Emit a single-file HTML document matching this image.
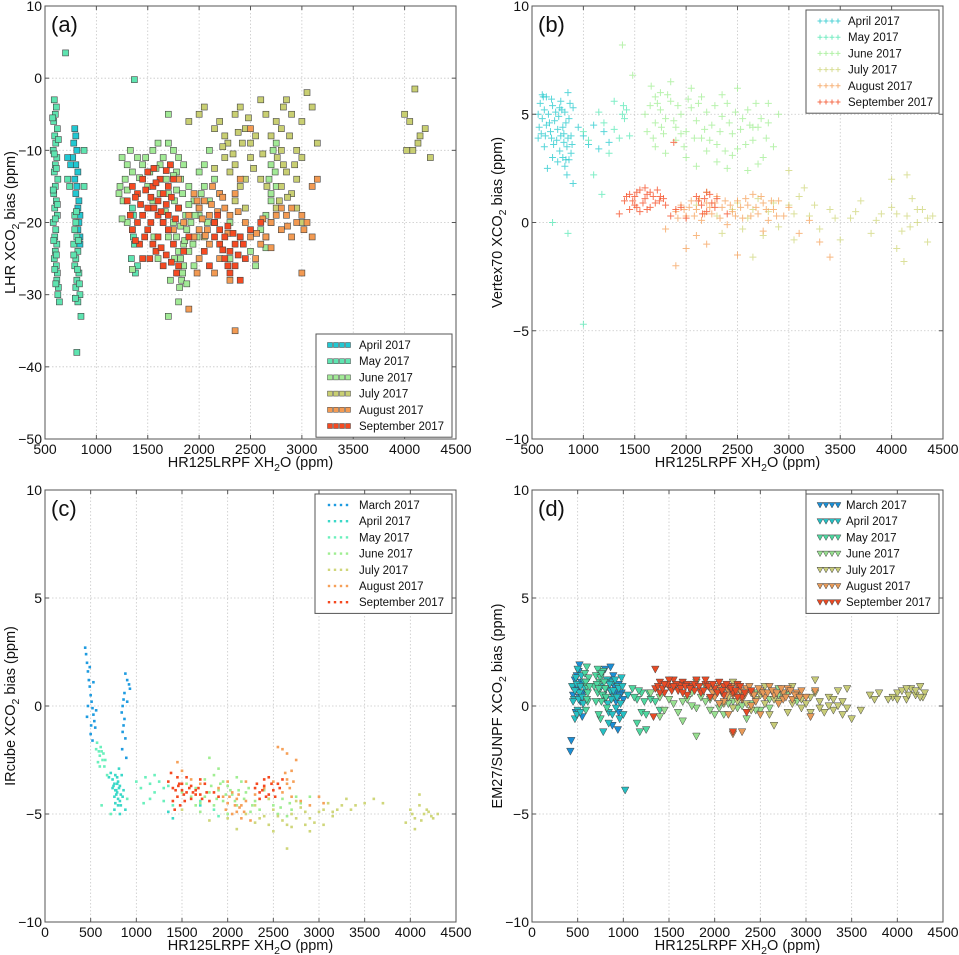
<!DOCTYPE html>
<html><head><meta charset="utf-8">
<style>
html,body{margin:0;padding:0;background:#fff;}
svg{display:block;font-family:"Liberation Sans","DejaVu Sans",sans-serif;}
</style></head>
<body>
<svg id="fig" width="959" height="955" viewBox="0 0 959 955" xmlns="http://www.w3.org/2000/svg"></svg>
<script>
// ---------- Panel (a) data: LHR ----------
const aApr=[[790,-7],[800,-8],[780,-9],[810,-10],[770,-11],[800,-12],[820,-13],[790,-14],[810,-15],[800,-16],[830,-17],[820,-18],[810,-19],[830,-20],[820,-21],[840,-22],[720,-11],[750,-12],[840,-19],[840,-23]];
const aMay=[[590,-3],[610,-4],[600,-5],[585,-6],[620,-7],[595,-8],[605,-9],[580,-10],[615,-11],[600,-12],[590,-13],[625,-14],[600,-15],[585,-16],[610,-17],[595,-18],[620,-19],[580,-20],[605,-21],[595,-22],[615,-23],[600,-24],[590,-25],[610,-26],[620,-27],[615,-28],[630,-29],[625,-30],[640,-31],[720,-14],[740,-15],[790,-19],[800,-20],[810,-22],[780,-23],[820,-24],[800,-25],[790,-26],[830,-27],[810,-28],[800,-29],[840,-30],[820,-31],[850,-33],[810,-38],[700,3.5],[1370,-0.2],[1360,-19],[1350,-21],[1370,-23],[1340,-25],[1380,-27],[1360,-22],[1350,-18],[1400,-26],[880,-10],[880,-15],
 [575,-5.5],[630,-8.5],[590,-10.5],[610,-12.5],[580,-15.5],[620,-17.5],[600,-19.5],[585,-22.5],[610,-24.5],[595,-26.5],[605,-28.5],[780,-24.5],[815,-26.5],[835,-28.5],[795,-30.5],[825,-22.5],[805,-18.5],[790,-21]];
const aJun=[[1250,-11],[1300,-12],[1330,-10],[1280,-14],[1230,-15],[1260,-17],[1220,-16],[1300,-20],[1450,-12],[1480,-11],[1520,-13],[1550,-10],[1600,-9],[1620,-12],[1650,-11],[1700,-9],[1720,-12],[1750,-10],[1780,-13],[1800,-11],[1820,-14],[1850,-12],[1680,-14],[1700,-16],[1760,-17],[1800,-18],[1840,-16],[1870,-19],[1900,-15],[1920,-20],[1950,-17],[1980,-22],[2000,-19],[1750,-20],[1780,-22],[1800,-24],[1820,-25],[1850,-26],[1800,-27],[1830,-28],[1810,-29],[1850,-23],[1880,-21],[1900,-24],[1700,-22],[1650,-20],[1600,-25],[1560,-22],[1950,-26],[2000,-13],[2050,-15],[2100,-17],[2150,-14],[2200,-16],[1700,-33],[1800,-31],[2050,-12],[2100,-10],[2300,-20],[2400,-22],[2500,-24],[2600,-21],[2650,-19],[2700,-17],[2750,-15],[2700,-12],[2720,-10],[2750,-9],[2650,-22],[2550,-26],[2300,-25],[1700,-5],
 [1350,-13],[1400,-11],[1500,-15],[1550,-17],[1580,-12.5],[1620,-16],[1750,-13.5],[1780,-15.5],[1820,-20.5],[1860,-22.5],[1900,-17.5],[1940,-23],[1960,-19],[2020,-16],[2080,-20],[1760,-25],[1840,-27],[1880,-28.5],[1720,-28],[1670,-18.5],[1350,-26.5],[1420,-13.8],[2680,-14],[2740,-13],[2700,-16],[2650,-23.5],[1250,-19.5],[1300,-15.5]];
const aJul=[[1900,-6],[2000,-5],[2050,-4],[2150,-7],[2200,-6],[2250,-8],[2280,-9],[2350,-5],[2400,-4],[2450,-7],[2500,-9],[2550,-8],[2600,-3],[2650,-5],[2700,-8],[2750,-6],[2800,-7],[2820,-4],[2850,-3],[2900,-5],[2950,-10],[3000,-6],[3050,-2],[3100,-4],[3150,-9],[2250,-11],[2300,-13],[2350,-12],[2400,-15],[2450,-14],[2500,-11],[2350,-17],[2450,-18],[2600,-14],[2700,-20],[2750,-18],[2800,-15],[2850,-13],[2900,-16],[2950,-18],[3000,-11],[2800,-10],[2150,-20],[2050,-22],[2000,-18],[4000,-5],[4050,-6],[4100,-1.5],[4150,-8],[4200,-7],[4080,-10],[4130,-9],[4250,-11],[4020,-10],[3000,-20],[2950,-14],
 [2230,-9.5],[2330,-10.5],[2420,-9],[2530,-12.5],[2620,-10.5],[2760,-11],[2820,-12],[2880,-8],[2930,-12],[2780,-17],[2860,-16.5],[2660,-15],[2380,-7.5],[2480,-5.5],[2150,-12.5]];
const aAug=[[1950,-16],[2000,-18],[2050,-17],[2100,-19],[2150,-20],[2080,-21],[2200,-16],[2250,-18],[2300,-19],[2000,-21],[2100,-23],[1900,-19],[1850,-20],[1750,-21],[1950,-22],[2350,-16],[2400,-14],[2450,-20],[2500,-22],[2550,-25],[2600,-23],[2650,-22],[2700,-20],[2750,-19],[2800,-21],[2900,-18],[2950,-20],[3000,-19],[3050,-20],[3100,-22],[3150,-14],[3100,-15],[2900,-22],[2850,-19],[2200,-25],[2300,-28],[2150,-27],[1980,-27],[2350,-35],[1900,-32],[2000,-25],[1800,-14],[2500,-7],[2800,-18],[3000,-27],
 [2120,-17.5],[2180,-18.5],[2230,-16.5],[2280,-21.5],[2030,-19.5],[1980,-17],[2130,-15],[2380,-18.5],[2560,-21.5],[2620,-19.5],[2860,-20.5],[3020,-21],[2700,-23.5],[2060,-21.8]];
const aSep=[[1350,-15],[1300,-17],[1400,-16],[1450,-14],[1500,-13],[1550,-15],[1600,-17],[1650,-16],[1700,-15],[1750,-14],[1800,-18],[1450,-19],[1400,-20],[1500,-21],[1550,-23],[1600,-22],[1650,-20],[1700,-19],[1500,-18],[1600,-19],[1700,-21],[1750,-23],[1800,-26],[1850,-24],[1780,-27],[1650,-26],[1450,-25],[1520,-25],[1350,-21],[1420,-23],[1560,-18],[1620,-14],[1720,-12],[1900,-22],[2150,-20],[2200,-21],[2250,-22],[2300,-24],[2350,-23],[2250,-25],[2400,-22],[2200,-23],[2350,-26],[2300,-27],[2450,-25],[2500,-21],[2150,-22],[2050,-24],[2400,-28],[2600,-20],[2100,-26],
 [1380,-16.5],[1430,-17.5],[1480,-15.5],[1530,-16.5],[1580,-14.5],[1630,-18.5],[1680,-17.5],[1730,-16.5],[1770,-19.5],[1470,-22],[1530,-20],[1580,-24],[1630,-23.5],[1680,-24.5],[1730,-25.5],[1330,-19],[1380,-22.5],[2180,-19],[2280,-20.5],[2330,-21.5],[2380,-24.5],[2280,-26],[2430,-23],[2230,-23.8],[1560,-12.5],[1680,-12.8]];
// ---------- Panel (b) data: Vertex70 ----------
const bApr=[[560,5],[580,5.5],[600,4.8],[620,5.2],[640,4.5],[660,5],[680,4.2],[700,5.4],[720,4.7],[740,3.8],[760,4.9],[780,5.6],[800,4.4],[820,5.1],[840,3.5],[860,4.8],[880,4],[900,5.3],[800,3],[820,2.6],[840,2.2],[860,2.9],[620,3.5],[650,2.5],[700,3],[750,2.8],[780,4],[850,6],[880,3.2],[950,4.4],[1000,4],[1050,3.6],[1100,4.5],[1150,3.4],[1200,4.2],[1250,3.7],[590,4.1],[640,5.8],[560,3.9],[900,1.8],
 [570,4.4],[610,5.8],[630,4],[670,4.6],[690,5.7],[710,3.6],[730,5.1],[750,4.3],[770,3.3],[790,5.2],[810,4.1],[830,4.6],[850,3.9],[870,5.5],[890,3.6],[830,2.9],[810,3.7],[770,5.3],[690,3.9],[600,5.9]];
const bMay=[[1380,5],[1390,5.4],[1400,4.8],[1420,5.2],[1000,4.2],[1050,3.8],[1150,5.1],[1200,4.6],[1250,3.2],[1300,4.3],[1450,4],[1350,3.9],[1000,-4.7],[700,0],[850,-0.5],[1180,1.3],[1100,2.2],[1300,5.6]];
const bJun=[[1600,5],[1650,5.4],[1700,4.6],[1750,5.2],[1800,4.8],[1850,5.6],[1900,4.4],[1950,5],[2000,4.2],[2050,5.3],[2100,4.7],[2150,3.9],[2200,5.1],[2250,4.5],[2300,3.6],[2350,4.9],[2400,5.5],[2450,4.1],[2500,3.4],[2550,4.8],[2600,5.2],[2650,3.8],[2700,4.4],[2750,3],[2800,4.6],[2850,3.5],[1700,3.5],[1800,3.2],[1900,3.8],[2000,3],[2100,2.6],[2200,3.3],[2300,2.8],[2400,2.5],[2600,2.4],[2700,2.7],[1750,6],[1850,6.5],[2050,6.2],[2500,6.2],[2900,5],[1480,6.8],[1380,8.2],[1700,5.8],[1950,4.1],[2150,5.8],[2350,5.9],[2450,3.1],[2650,4.4],[2800,5.5],
 [1620,4.2],[1680,3.9],[1720,5.5],[1780,4.1],[1820,5.9],[1880,4.7],[1920,5.4],[1980,3.5],[2020,5.7],[2080,3.9],[2120,5.5],[2180,4.3],[2230,3.8],[2280,5.4],[2330,4.2],[2380,3.3],[2420,4.6],[2480,5.1],[2530,4.3],[2580,3.6],[2620,4.5],[2680,5.5],[2730,4.8],[2780,3.9],[1660,6.3],[1760,4.4]];
const bJul=[[2100,0.8],[2300,0.3],[2500,0.9],[2600,0.2],[2700,1.1],[2800,0.5],[2900,-0.2],[3000,0.8],[3100,1.2],[3200,0.3],[3300,-0.3],[3400,0.6],[3500,-0.8],[3600,0.2],[3700,1],[3800,-0.5],[3900,0.4],[4000,0.7],[4100,-0.4],[4150,0.3],[4200,1.1],[4250,0],[4300,0.6],[4350,-0.9],[4400,0.3],[3050,-0.8],[2750,-0.6],[2550,-0.3],[2200,1.4],[3000,2.4],[4050,-1.2],[4120,-1.8],[4000,2],[4150,2.2],[2650,-1.6],[2350,-0.5],[3150,1.6],
 [2450,0.6],[2650,0.6],[2850,0.9],[3050,0.4],[3250,0.8],[3450,0.2],[3650,0.5],[3850,0.1],[4050,0.4],[4250,0.6],[4350,0.2],[4180,-0.2]];
const bAug=[[1900,0.5],[1950,0.8],[2000,0.3],[2050,1],[2100,0.6],[2150,0.1],[2200,0.9],[2250,0.4],[2300,1.2],[2350,0.7],[2400,-0.1],[2450,0.5],[2500,1],[2550,0.2],[2600,0.8],[2650,1.3],[2700,0.4],[2750,0.9],[2800,0.1],[2850,0.6],[2900,1],[2950,0.3],[3000,0.7],[3100,-0.5],[3200,0.1],[3300,-0.9],[1800,-0.3],[2000,-1.2],[2100,-0.6],[2500,-1.5],[1900,-2],[3400,-1.6],[2200,-1],[2750,-0.4],
 [1920,0.2],[1980,0.6],[2030,0.7],[2080,0.3],[2130,1.1],[2180,0.4],[2230,0.7],[2280,0.9],[2330,0.2],[2380,1],[2430,0.8],[2480,0.3],[2530,0.7],[2580,1.1],[2630,0.3],[2680,0.7],[2730,1.2],[2780,0.6],[2830,1],[2880,0.3]];
const bSep=[[1400,1],[1450,1.3],[1500,0.8],[1550,1.5],[1600,1.1],[1650,1.4],[1700,0.9],[1750,1.2],[1600,1.6],[1500,1.2],[1450,0.6],[1650,0.7],[1720,1.5],[1550,0.5],[1800,0.8],[1850,0.3],[1900,0.6],[2100,1.2],[2200,1.4],[2250,0.9],[2300,1.1],[2200,0.5],[2150,0.8],[2400,0.4],[2000,0.2],[1880,3.7],[1350,0.4],[1950,0.7],
 [1420,1.2],[1480,1],[1520,1.4],[1580,0.9],[1620,1.3],[1680,1.2],[1740,1],[1780,1.1],[1620,0.6],[1520,0.7],[2120,1],[2180,1.1],[2230,1.3],[2280,0.7],[2160,0.4]];
// ---------- Panel (c) data: IRcube ----------
const cMar=[[440,2.7],[450,2.4],[460,2],[470,1.6],[480,1.2],[490,0.9],[500,0.5],[510,0.2],[520,-0.1],[530,-0.4],[540,-0.7],[550,-1],[500,-1.3],[520,-1.6],[460,-0.5],[490,1.8],[530,1.1],[560,-0.2],[470,0],[505,-0.9],[880,1.5],[900,1.2],[920,1],[870,0.6],[860,0.3],[850,0],[840,-0.3],[870,-0.6],[860,-0.9],[850,-1.2],[880,-1.5],[900,0.2],[930,0.8],[845,-2],[890,-2.4]];
const cApr=[[720,-3.1],[740,-3.4],[760,-3.6],[780,-3.9],[800,-3.5],[820,-3.7],[780,-4.1],[800,-4.3],[830,-4.6],[760,-4.2],[740,-3.8],[700,-3.3],[860,-3.9],[840,-3.2],[810,-2.9],[790,-3.3],[770,-4.5],[850,-4.2],[880,-4.8],[820,-5.0],[1350,-4.9],[1400,-5.2],[1700,-4.6],
 [750,-3.7],[770,-3.9],[790,-4],[810,-3.8],[770,-3.2],[800,-4.6],[830,-4.1],[760,-4.8],[790,-3.6],[820,-4.4]];
const cMay=[[560,-2],[570,-1.7],[600,-2.3],[620,-2.1],[580,-2.6],[650,-2.8],[680,-3.2],[610,-1.9],[1000,-3.5],[1050,-3.8],[1100,-3.3],[1150,-3.6],[1200,-4],[1250,-3.5],[1300,-3.8],[1350,-3.7],[1150,-4.3],[1200,-3.2],[1080,-4.5],[1300,-4.4],[1400,-4.6],[1850,-4.8],[1900,-5.1],[1700,-4.4],[620,-4.6],[720,-5],[900,-4.3],
 [590,-2.1],[630,-2.5],[640,-2.2],[660,-2.5],[600,-2.8]];
const cJun=[[1500,-4],[1550,-3.6],[1600,-4.2],[1650,-3.8],[1700,-4.5],[1750,-3.4],[1800,-4],[1850,-3.2],[1800,-2.4],[1900,-3.9],[1950,-4.4],[2000,-3.7],[2050,-4.1],[2100,-4.6],[2150,-3.5],[2200,-4],[2300,-4.4],[2400,-3.9],[2500,-4.6],[2600,-4.3],[2700,-4.8],[2800,-4.5],[2900,-4.2],[1700,-4.9],[1850,-4.6],[2000,-5],[2250,-4.9],[2550,-5],[2750,-4.2],[1900,-2.9],[1750,-4.2],[2100,-3.3],[1950,-3.5],[2650,-5.1],[1650,-4.6],
 [1820,-3.7],[1880,-4.3],[1920,-3.6],[1980,-4.1],[2030,-3.9],[2080,-4.4],[2120,-3.9],[2180,-4.3],[2230,-3.8],[2270,-4.6],[2350,-4.8],[2450,-4.3],[2580,-4.7],[2680,-4.5]];
const cJul=[[1500,-4.8],[1800,-5.3],[2000,-5.2],[2200,-5],[2300,-4.6],[2400,-5.1],[2500,-4.8],[2600,-5.3],[2700,-5],[2800,-4.7],[2900,-5.2],[3000,-4.9],[3100,-4.5],[3200,-4.8],[3300,-4.3],[3400,-4.6],[3500,-4.5],[3600,-4.3],[3700,-4.5],[2500,-5.8],[2700,-5.6],[2900,-5.8],[2650,-6.6],[2100,-5.7],[2300,-5.4],[2750,-4.4],[3050,-5.5],[4000,-4.8],[4050,-5.2],[4100,-4.6],[4150,-5],[4200,-4.9],[4250,-5.2],[4300,-5],[4100,-4.1],[4050,-5.7],[3950,-5.4],[2450,-4.3],[3150,-5.1],[2850,-5.5],
 [2350,-5.2],[2450,-5.5],[2550,-5.1],[2650,-5.5],[2750,-5.2],[2850,-4.9],[2950,-5.4],[3050,-4.8],[3150,-4.9],[3250,-4.6],[3350,-4.8],[4020,-5],[4120,-5.3],[4180,-4.8],[4230,-5.1]];
const cAug=[[1450,-2.6],[1500,-3],[1700,-3.6],[1900,-3.8],[2000,-3.5],[2050,-4],[2100,-4.3],[2150,-4.6],[2100,-4.9],[2200,-4.4],[2000,-4.5],[2050,-5],[2150,-5.2],[1950,-4.2],[2300,-4.1],[2400,-3.8],[2500,-3.5],[2600,-4],[2650,-3.4],[2700,-3],[2650,-3.6],[2700,-4.2],[2550,-1.9],[2600,-2],[2650,-2.2],[2750,-2.5],[2800,-4.4],[2900,-4.6],[3000,-4.2],[3050,-4.5],[2200,-3.5],[1600,-3.4],[2250,-5.3],
 [2020,-4.2],[2080,-4.6],[2120,-4.1],[2180,-4.9],[2130,-4.7],[1980,-4.8],[2680,-3.8],[2720,-3.5],[2630,-3.1]];
const cSep=[[1350,-3.5],[1400,-3.8],[1450,-3.3],[1500,-3.6],[1550,-4],[1450,-4.2],[1400,-4.4],[1500,-3.9],[1600,-3.7],[1650,-3.9],[1700,-4.1],[1750,-3.6],[1600,-4.3],[1650,-4.1],[1800,-4.4],[1850,-4],[1900,-4.2],[1550,-3.3],[1480,-4.6],[2300,-3.8],[2350,-4],[2400,-3.7],[2450,-4.1],[2500,-3.9],[2400,-3.4],[2350,-4.3],[2550,-3.6],[2600,-3.4],[2450,-3.3],[1380,-3.1],[1700,-3.4],[1420,-4.8],
 [1430,-3.9],[1470,-3.6],[1520,-4.1],[1580,-3.8],[1620,-4],[1680,-3.8],[1720,-4.3],[1770,-4],[1460,-3.7],[1530,-4.4],[2320,-3.6],[2380,-3.9],[2420,-4.2],[2480,-3.6],[2520,-4.2],[2570,-3.8]];
// ---------- Panel (d) data: EM27/SUN ----------
const dMar=[[450,0.5],[470,1.2],[480,-0.3],[500,0.8],[510,1.6],[520,1.9],[530,0.2],[540,1.1],[550,-0.5],[560,0.6],[800,1.7],[850,1.2],[860,1.8],[900,0.9],[920,0.2],[950,-0.3],[980,0.6],[880,-0.9],[940,-1.1],[430,-1.6],[420,-2.1],[1000,0.3],[950,1],
 [460,0.9],[490,1.4],[520,0.4],[540,0.6],[870,0.6],[890,1.4],[910,0.6],[960,0.5]];
const dApr=[[440,0.9],[460,0.3],[480,1.3],[500,-0.2],[520,0.6],[540,1.4],[560,0.1],[580,0.8],[470,-0.6],[500,1.7],[760,0.9],[800,0.3],[820,1.2],[840,-0.3],[860,0.7],[880,1.1],[900,0.4],[920,-0.1],[940,0.9],[960,-0.6],[980,1.3],[1000,-0.4],[840,-0.8],[880,-0.4],[1020,-3.9],[780,-1.2],[1050,0.5],
 [450,0.2],[470,0.7],[490,1],[510,0.3],[530,0.9],[550,0.4],[570,1.1],[780,0.5],[810,0.8],[830,0.1],[850,1],[870,0.3],[890,0.7],[910,1.2],[930,0.4],[950,0.8],[970,0.1],[990,0.9],[490,-0.4],[530,-0.3]];
const dMay=[[580,1.5],[600,0.9],[610,0.2],[620,1.3],[590,-0.2],[600,1.8],[700,1.4],[720,0.6],[740,1.1],[760,0.2],[750,-0.6],[780,1.6],[800,0.8],[820,-0.1],[700,0.2],[730,-0.4],[1100,0.8],[1150,0.3],[1200,-0.3],[1150,-0.8],[1200,0.6],[1250,-0.4],[1300,0.3],[1180,-1.2],[1250,-1.1],[1350,0.2],[1400,-0.2],[680,0.9],
 [590,1.1],[610,0.6],[630,0.9],[600,0.3],[710,1],[730,0.8],[750,1.3],[770,0.5],[790,1.1],[810,0.4],[720,1.7],[760,1.5],[1120,0.4],[1170,0.7],[1230,0.2],[1280,0.6]];
const dJun=[[1300,0.6],[1400,0.4],[1450,-0.2],[1550,0.1],[1600,-0.3],[1700,0.3],[1750,0.6],[1800,-0.1],[1850,0.4],[1900,0.9],[1950,-0.2],[2000,0.5],[2050,0.1],[2100,-0.4],[2150,0.7],[2200,0.2],[2250,-0.1],[2300,0.5],[2400,0.1],[2500,-0.2],[2600,0.3],[2700,0.8],[2800,0.6],[2900,0.2],[1800,1.1],[1650,-0.7],[1800,-1.4],[2000,-0.4],[2350,-0.6],[2450,0.6],
 [1500,0.3],[1650,0.2],[1750,0],[1900,0.2],[1950,0.3],[2050,-0.1],[2150,0.1],[2300,0],[2450,-0.2],[2600,-0.1],[2700,0.5],[1400,-0.5]];
const dJul=[[2100,0.1],[2200,-0.1],[2300,0.3],[2400,-0.2],[2500,0.5],[2600,-0.4],[2700,0.2],[2800,-0.3],[2900,0.5],[3000,0.1],[3050,-0.3],[3100,0.6],[3150,0.2],[3200,-0.3],[3250,0.4],[3300,-0.2],[3350,0.7],[3400,-0.4],[3450,0.8],[3600,-0.2],[3700,0.5],[3800,0.6],[3950,0.4],[4000,0.6],[4050,0.7],[4100,0.3],[4150,0.8],[4200,0.5],[4250,0.9],[4300,0.6],[4280,0.4],[4120,0.5],[2850,0.9],[3100,1.2],[2650,-0.9],[2200,1.1],[3350,0],[2950,-0.1],[3500,-0.6],[2550,0.9],
 [2150,0.4],[2250,0.2],[2350,0.1],[2450,0.3],[2550,0.1],[2650,0.3],[2750,0.5],[2850,0.1],[2950,0.3],[3050,0.4],[3150,-0.1],[3250,0],[3300,0.3],[3400,0.2],[3450,-0.1],[4000,0.3],[4200,0.7],[4250,0.4],[4100,0.8],[3750,0.3],[3900,0.3]];
const dAug=[[1950,0.8],[2000,0.4],[2050,0.9],[2100,0.2],[2150,0.7],[2200,0.5],[2250,0.9],[2300,0.3],[2350,0.8],[2400,0.6],[2450,0.2],[2500,0.7],[2550,0.4],[2600,0.9],[2650,0.5],[2700,0.1],[2750,0.6],[2800,0.8],[2850,0.3],[2900,0.6],[3000,0.4],[3100,0.7],[3050,-0.5],[2500,-0.4],[2300,-1.2],[2150,-0.4],[2400,0],[2050,0.1],[2750,0.3],[2950,0.7],[2200,-1.3],
 [1980,0.6],[2030,0.7],[2080,0.6],[2130,0.5],[2180,0.9],[2230,0.6],[2280,0.7],[2330,0.5],[2380,0.9],[2430,0.5],[2480,0.8],[2530,0.6],[2580,0.6],[2630,0.7],[2680,0.6],[2730,0.8],[2780,0.4],[2830,0.7],[2880,0.5],[2930,0.4]];
const dSep=[[1350,0.8],[1400,1.1],[1450,0.6],[1500,0.9],[1550,1.2],[1600,0.7],[1650,1.1],[1700,0.5],[1750,0.9],[1800,1.2],[1850,0.6],[1900,1],[1950,0.4],[2000,0.8],[2050,1.1],[2100,0.5],[2150,0.9],[2200,0.6],[2250,1],[2300,0.4],[2400,0.7],[1400,0.6],[1500,1.2],[1700,1],[1900,1.2],[2100,0.9],[2250,0.4],[1620,0.95],[1780,0.7],[1350,1.7],[1330,-0.5],[2350,-0.3],[2200,-1.2],
 [1380,0.9],[1430,0.8],[1480,1],[1530,0.7],[1580,1],[1630,0.8],[1680,0.9],[1730,0.8],[1780,1],[1830,0.9],[1880,0.7],[1930,0.9],[1980,1],[2030,0.6],[2080,0.7],[2130,1],[2180,0.8],[2230,0.7],[2280,0.9],[2330,0.6],[1450,1],[1550,0.9],[1650,0.6]];

const xTicksA=[500,1000,1500,2000,2500,3000,3500,4000,4500];
const xTicksC=[0,500,1000,1500,2000,2500,3000,3500,4000,4500];
const yTicksA=[10,0,-10,-20,-30,-40,-50];
const yTicksB=[10,5,0,-5,-10];

const NS='http://www.w3.org/2000/svg';
const fig=document.getElementById('fig');
function mk(tag,attrs,parent){const e=document.createElementNS(NS,tag);for(const k in attrs)e.setAttribute(k,attrs[k]);(parent||fig).appendChild(e);return e;}
function fmt(v){return v<0?'\u2212'+Math.abs(v):String(v);}

function panel(cfg){
  const g=mk('g',{});
  
  
  const L=cfg.L,R=cfg.R,T=cfg.T,B=cfg.B;
  const sx=v=>L+(v-cfg.x0)/(cfg.x1-cfg.x0)*(R-L);
  const sy=v=>T+(cfg.y1-v)/(cfg.y1-cfg.y0)*(B-T);
  cfg.xt.forEach(t=>{const l=mk('line',{x1:sx(t),x2:sx(t),y1:T,y2:B,stroke:'#c8c8c8','stroke-width':0.8,'stroke-dasharray':'1.5,2'},g);
    });
  cfg.yt.forEach(t=>{const l=mk('line',{x1:L,x2:R,y1:sy(t),y2:sy(t),stroke:'#c8c8c8','stroke-width':0.8,'stroke-dasharray':'1.5,2'},g);
    });
  cfg.series.forEach(s=>{
    const sg=mk('g',{},g);
    
    
    s.data.forEach(p=>{
      const x=sx(p[0]),y=sy(p[1]);let m;
      if(cfg.marker==='sq'){m=mk('rect',{x:x-3,y:y-3,width:6,height:6,fill:s.color,stroke:'#444','stroke-width':0.6},sg);}
      else if(cfg.marker==='plus'){m=mk('path',{d:`M${x-3.5},${y}h7M${x},${y-3.5}v7`,stroke:s.color,'stroke-width':1,opacity:0.75,fill:'none'},sg);}
      else if(cfg.marker==='dot'){m=mk('rect',{x:x-1.3,y:y-1.3,width:2.6,height:2.6,fill:s.color},sg);}
      else {m=mk('path',{d:`M${x-3.8},${y-3.2}L${x+3.8},${y-3.2}L${x},${y+3.8}Z`,fill:s.color,stroke:'#444','stroke-width':0.5},sg);}
      
      
    });
  });
  const fr=mk('rect',{x:L,y:T,width:R-L,height:B-T,fill:'none',stroke:'#555','stroke-width':1},g);
  
  cfg.xt.forEach(t=>{
    mk('line',{x1:sx(t),x2:sx(t),y1:B,y2:B-4,stroke:'#555'},g);
    mk('line',{x1:sx(t),x2:sx(t),y1:T,y2:T+4,stroke:'#555'},g);
    const tx=mk('text',{x:sx(t),y:B+15,'text-anchor':'middle','font-size':14,fill:'#111'},g);
    tx.textContent=fmt(t);
    
  });
  cfg.yt.forEach(t=>{
    mk('line',{x1:L,x2:L+4,y1:sy(t),y2:sy(t),stroke:'#555'},g);
    mk('line',{x1:R,x2:R-4,y1:sy(t),y2:sy(t),stroke:'#555'},g);
    const tx=mk('text',{x:L-3,y:sy(t)+5,'text-anchor':'end','font-size':14,fill:'#111'},g);
    tx.textContent=fmt(t);
    
  });
  const xtl=mk('text',{x:(L+R)/2,y:B+28,'text-anchor':'middle','font-size':14.5,fill:'#111'},g);
  xtl.innerHTML='HR125LRPF XH<tspan dy="4" font-size="10.5">2</tspan><tspan dy="-4">O (ppm)</tspan>';
  
  const cy=(T+B)/2, cx=L-30;
  const ytl=mk('text',{x:cx,y:cy,'text-anchor':'middle','font-size':14.5,fill:'#111',transform:`rotate(-90 ${cx} ${cy})`},g);
  ytl.innerHTML=cfg.ypre+' XCO<tspan dy="4" font-size="10.5">2</tspan><tspan dy="-4"> bias (ppm)</tspan>';
  
  const pl=mk('text',{x:L+6,y:T+26,'font-size':22,fill:'#111'},g);
  pl.textContent=cfg.tag;
  
  const lg=mk('g',{},g);
  
  const n=cfg.series.length, lh=16.2, lx=cfg.legX, ly=cfg.legY;
  mk('rect',{x:lx,y:ly,width:cfg.legW,height:n*lh+6,fill:'#fff',stroke:'#555','stroke-width':1},lg);
  cfg.series.forEach((s,i)=>{
    const yy=ly+11+i*lh;
    const eg=mk('g',{},lg);
    
    for(let k=0;k<4;k++){
      const x=lx+14+k*6;
      if(cfg.marker==='sq')mk('rect',{x:x-2.5,y:yy-2.5,width:5,height:5,fill:s.color,stroke:'#444','stroke-width':0.5},eg);
      else if(cfg.marker==='plus')mk('path',{d:`M${x-2.5},${yy}h5M${x},${yy-2.5}v5`,stroke:s.color,'stroke-width':1,opacity:0.8},eg);
      else if(cfg.marker==='dot')mk('rect',{x:x-1.2,y:yy-1.2,width:2.4,height:2.4,fill:s.color},eg);
      else mk('path',{d:`M${x-3},${yy-2.5}L${x+3},${yy-2.5}L${x},${yy+3}Z`,fill:s.color,stroke:'#444','stroke-width':0.5},eg);
    }
    const t=mk('text',{x:lx+cfg.legTx,y:yy+4,'font-size':11.5,fill:'#111'},eg);
    t.textContent=s.label;
  });
}

const C={mar:'#1e9be0',apr:'#22c8cc',may:'#55e8b4',jun:'#a0ee92',jul:'#cfd67a',aug:'#f6a058',sep:'#f5481f'};
const CA={apr:'#22c8d2',may:'#5ee4b0',jun:'#a2ea96',jul:'#c9cf72',aug:'#f39a52',sep:'#f54a22'};

panel({name:'panel-a-lhr',tag:'(a)',ypre:'LHR',L:45,R:456,T:6,B:439,x0:500,x1:4500,y0:-50,y1:10,xt:xTicksA,yt:yTicksA,marker:'sq',
  legX:316,legY:334,legW:136,legTx:43,
  series:[{label:'April 2017',color:CA.apr,data:aApr},{label:'May 2017',color:CA.may,data:aMay},{label:'June 2017',color:CA.jun,data:aJun},{label:'July 2017',color:CA.jul,data:aJul},{label:'August 2017',color:CA.aug,data:aAug},{label:'September 2017',color:CA.sep,data:aSep}]});
panel({name:'panel-b-vertex70',tag:'(b)',ypre:'Vertex70',L:532,R:943,T:6,B:439,x0:500,x1:4500,y0:-10,y1:10,xt:xTicksA,yt:yTicksB,marker:'plus',
  legX:806,legY:10,legW:133,legTx:42,
  series:[{label:'April 2017',color:C.apr,data:bApr},{label:'May 2017',color:C.may,data:bMay},{label:'June 2017',color:C.jun,data:bJun},{label:'July 2017',color:C.jul,data:bJul},{label:'August 2017',color:C.aug,data:bAug},{label:'September 2017',color:C.sep,data:bSep}]});
panel({name:'panel-c-ircube',tag:'(c)',ypre:'IRcube',L:45,R:456,T:490,B:922,x0:0,x1:4500,y0:-10,y1:10,xt:xTicksC,yt:yTicksB,marker:'dot',
  legX:315,legY:494,legW:137,legTx:44,
  series:[{label:'March 2017',color:C.mar,data:cMar},{label:'April 2017',color:'#3ad8c8',data:cApr},{label:'May 2017',color:'#6af0bc',data:cMay},{label:'June 2017',color:C.jun,data:cJun},{label:'July 2017',color:C.jul,data:cJul},{label:'August 2017',color:C.aug,data:cAug},{label:'September 2017',color:C.sep,data:cSep}]});
panel({name:'panel-d-em27sun',tag:'(d)',ypre:'EM27/SUNPF',L:532,R:943,T:490,B:922,x0:0,x1:4500,y0:-10,y1:10,xt:xTicksC,yt:yTicksB,marker:'tri',
  legX:806,legY:494,legW:133,legTx:40,
  series:[{label:'March 2017',color:'#1a8fd6',data:dMar},{label:'April 2017',color:'#25c0c4',data:dApr},{label:'May 2017',color:'#4ed8a0',data:dMay},{label:'June 2017',color:'#98e090',data:dJun},{label:'July 2017',color:'#c8cc78',data:dJul},{label:'August 2017',color:'#e89a58',data:dAug},{label:'September 2017',color:'#e84a24',data:dSep}]});
</script>
</body></html>
